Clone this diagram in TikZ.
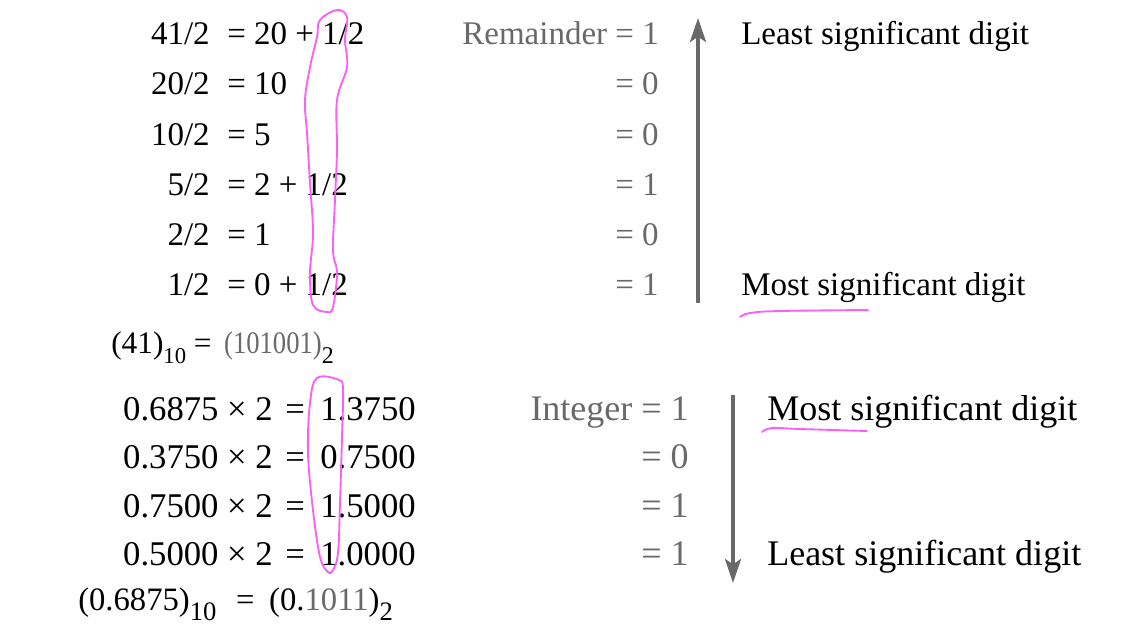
\documentclass[tikz,border=0pt]{standalone}
\usepackage{fontspec}
\setmainfont{Liberation Serif}
\usepackage{xcolor}
\usepackage{tikz}
\usetikzlibrary{arrows.meta}
\definecolor{scangray}{RGB}{105,105,105}
\definecolor{penpink}{RGB}{250,95,250}
\newcommand{\lowsub}[2][20]{\raisebox{-0.32em}{\fontsize{#1}{#1}\selectfont #2}}

\begin{document}
\begin{tikzpicture}[
  x=0.75pt, y=-0.75pt,
  up/.style={inner sep=0pt, font=\fontsize{24.75}{30}\selectfont},
  low/.style={inner sep=0pt, font=\fontsize{26}{31}\selectfont},
  lowtxt/.style={inner sep=0pt, font=\fontsize{27}{32}\selectfont},
  lhs/.style={anchor=base east},
  rhs/.style={anchor=base west},
  gr/.style={text=scangray},
  arrow/.style={-{Stealth[length=18pt,width=12pt,inset=4pt]}, line width=2.8pt, draw=scangray},
  ink/.style={draw=penpink, line width=1.4pt, line cap=round, line join=round}
]
\useasboundingbox (0,0) rectangle (1124,636);

% Division by 2
\node[up, lhs] (div1) at (210,44) {41/2};
\node[up, rhs] (res1) at (227,44) {= 20 + 1/2};
\node[up, lhs] (div2) at (210,94) {20/2};
\node[up, rhs] (res2) at (227,94) {= 10};
\node[up, lhs] (div3) at (210,145) {10/2};
\node[up, rhs] (res3) at (227,145) {= 5};
\node[up, lhs] (div4) at (210,195) {5/2};
\node[up, rhs] (res4) at (227,195) {= 2 + 1/2};
\node[up, lhs] (div5) at (210,245) {2/2};
\node[up, rhs] (res5) at (227,245) {= 1};
\node[up, lhs] (div6) at (210,295) {1/2};
\node[up, rhs] (res6) at (227,295) {= 0 + 1/2};

% Remainders
\node[up, lhs, gr] (rem1) at (659,44) {Remainder = 1};
\node[up, lhs, gr] (rem2) at (659,94) {= 0};
\node[up, lhs, gr] (rem3) at (659,145) {= 0};
\node[up, lhs, gr] (rem4) at (659,195) {= 1};
\node[up, lhs, gr] (rem5) at (659,245) {= 0};
\node[up, lhs, gr] (rem6) at (659,295) {= 1};

\coordinate (remlow) at (698,303);
\coordinate (remtop) at (698,18);
\draw[arrow] (remlow) -- (remtop);

\node[up, rhs] (lsd) at (741,44) {Least significant digit};
\node[up, rhs] (msd) at (741,295) {Most significant digit};

\node[inner sep=0pt, font=\fontsize{23.5}{28}\selectfont, rhs] (dec) at (111,353)
  {(41)\lowsub[17]{10}\hspace{0.25em}=\hspace{0.4em}{\color{scangray}\scalebox{0.85}[1]{(101001)}}\lowsub[18]{2}};

% Multiplication by 2
\node[low, lhs] (mul1) at (273,420) {0.6875 × 2};
\node[low, rhs] (prod1) at (285,420) {=\hspace{0.45em}1.3750};
\node[low, lhs] (mul2) at (273,468) {0.3750 × 2};
\node[low, rhs] (prod2) at (285,468) {=\hspace{0.45em}0.7500};
\node[low, lhs] (mul3) at (273,517) {0.7500 × 2};
\node[low, rhs] (prod3) at (285,517) {=\hspace{0.45em}1.5000};
\node[low, lhs] (mul4) at (273,565) {0.5000 × 2};
\node[low, rhs] (prod4) at (285,565) {=\hspace{0.45em}1.0000};

% Integer parts
\node[lowtxt, lhs, gr] (int1) at (689,420) {Integer = 1};
\node[lowtxt, lhs, gr] (int2) at (689,468) {= 0};
\node[lowtxt, lhs, gr] (int3) at (689,517) {= 1};
\node[lowtxt, lhs, gr] (int4) at (689,565) {= 1};

\coordinate (inttop) at (733,395);
\coordinate (intlow) at (733,583);
\draw[arrow] (inttop) -- (intlow);

\node[lowtxt, rhs] (msdf) at (767,420) {Most significant digit};
\node[lowtxt, rhs] (lsdf) at (767,565) {Least significant digit};

\node[inner sep=0pt, font=\fontsize{24.5}{29}\selectfont, rhs] (frac) at (78,610)
  {(0.6875)\lowsub{10}\hspace{0.6em}=\hspace{0.45em}(0.{\color{scangray}1011})\lowsub{2}};

% Pen marks
\draw[ink] plot[smooth cycle, tension=0.6] coordinates {
  (320,20) (337,10) (347,17) (345,40) (347,67) (337,100) (337,150)
  (335,200) (333,250) (337,273) (333,307) (327,312) (313,305)
  (310,273) (313,233) (310,183) (307,133) (305,100) (310,67) (317,37)};
\draw[ink] plot[smooth cycle, tension=0.6] coordinates {
  (317,378) (339,380) (343,390) (342,437) (340,503) (338,553) (333,570)
  (328,572) (320,557) (313,510) (308,453) (310,403)};
\draw[ink] plot[smooth, tension=0.6] coordinates {(740,317) (750,313) (780,311) (868,310)};
\draw[ink] plot[smooth, tension=0.6] coordinates {(762,432) (772,428) (800,429) (867,431)};

\end{tikzpicture}
\end{document}
